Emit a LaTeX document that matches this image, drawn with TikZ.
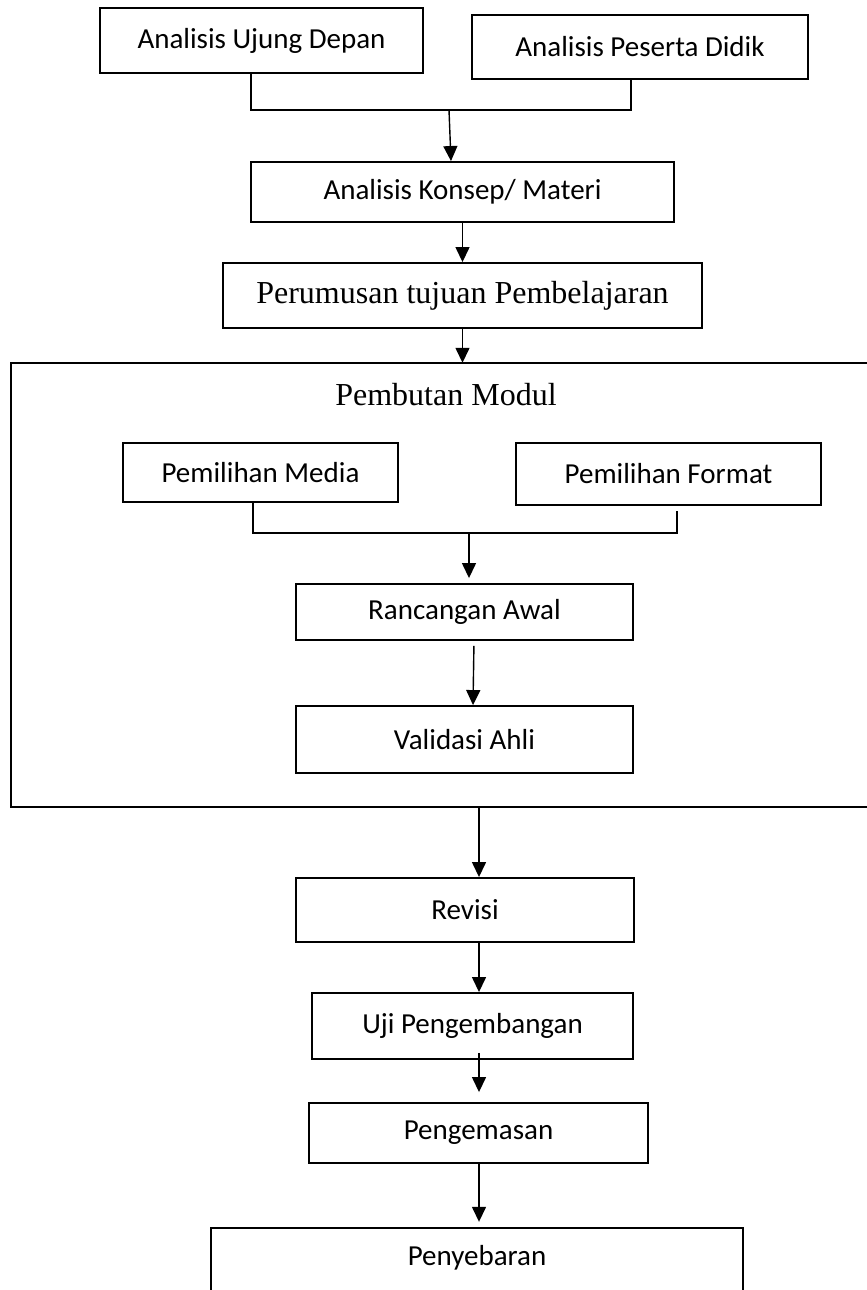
\documentclass[tikz,border=0pt]{standalone}
\usepackage{fontspec}
\setmainfont{Carlito}
\newfontfamily\tnr{Liberation Serif}
\usetikzlibrary{arrows.meta}
\begin{document}
\begin{tikzpicture}[x=1pt,y=-1pt,
  box/.style={draw, line width=1.9pt, inner sep=0pt, font=\fontsize{29}{34}\selectfont},
  serifbox/.style={box, font=\tnr\fontsize{32}{38}\selectfont},
  plain/.style={inner sep=0pt, font=\fontsize{29}{34}\selectfont},
  conn/.style={line width=1.4pt},
  arr/.style={conn, -{Triangle[width=14pt,length=15pt]}}]
\useasboundingbox (0,0) rectangle (867,1290);
\clip (0,0) rectangle (867,1290);
\fill[white] (0,0) rectangle (867,1290);

\node[box, minimum width=323pt, minimum height=65pt] (b1) at (261.5,40.5) {Analisis Ujung Depan};
\node[box, minimum width=336pt, minimum height=64pt] (b2) at (640,47) {Analisis Peserta Didik};
\node[box, minimum width=423pt, minimum height=60pt] (konsep) at (462.5,192) {Analisis Konsep/ Materi};
\node[serifbox, minimum width=479pt, minimum height=65pt] (perumusan) at (462.5,295.5) {Perumusan tujuan Pembelajaran};

\node[inner sep=0pt, minimum width=889pt, minimum height=444pt] (modul) at (455.5,585) {};
\draw[line width=1.9pt] (modul.north east) -- (modul.north west) -- (modul.south west) -- (modul.south east);
\node[inner sep=0pt, font=\tnr\fontsize{32}{38}\selectfont] (title) at (446,395) {Pembutan Modul};

\node[box, minimum width=275pt, minimum height=59pt] (media) at (260.5,472.5) {Pemilihan Media};
\node[box, minimum width=305pt, minimum height=62pt] (format) at (668.5,474) {Pemilihan Format};
\node[box, minimum width=337pt, minimum height=56pt] (rancangan) at (464.5,612) {Rancangan Awal};
\node[box, minimum width=337pt, minimum height=67pt] (validasi) at (464.5,739.5) {Validasi Ahli};

\node[box, minimum width=338pt, minimum height=64pt] (revisi) at (465,910) {Revisi};
\node[box, minimum width=321pt, minimum height=66pt] (uji) at (472.5,1026) {Uji Pengembangan};
\node[box, minimum width=339pt, minimum height=60pt] (pengemasan) at (478.5,1133) {Pengemasan};
\node[plain, minimum width=532pt, minimum height=60pt] (peny) at (477,1258) {Penyebaran};
\draw[line width=1.9pt] ([yshift=-10pt]peny.south west) -- (peny.north west) -- (peny.north east) -- ([yshift=-10pt]peny.south east);

% top bracket
\coordinate (j1l) at (251,110);
\coordinate (j1r) at (631,110);
\coordinate (j1m) at (449,110);
\draw[conn] (b1.south -| j1l) -- (j1l) -- (j1r) -- (b2.south -| j1r);
\draw[arr] (j1m) -- ([xshift=-11.5pt]konsep.north);
\draw[arr] (konsep.south) -- (perumusan.north);
\draw[arr] (perumusan.south) -- (perumusan.south |- modul.north);

% inner bracket
\coordinate (j2l) at (253,533);
\coordinate (j2r) at (677,533);
\coordinate (j2m) at (469,533);
\draw[conn] (media.south -| j2l) -- (j2l) -- (j2r) -- ([yshift=-5pt]format.south -| j2r);
\draw[arr, shorten >=5pt] (j2m) -- ([xshift=4.5pt]rancangan.north);
\draw[arr, shorten <=5pt] ([xshift=9.5pt]rancangan.south) -- ([xshift=8.5pt]validasi.north);

% lower chain
\coordinate (r1) at ([xshift=14pt]revisi.north);
\draw[arr] (r1 |- modul.south) -- (r1);
\draw[arr] ([xshift=14pt]revisi.south) -- ([xshift=6.5pt]uji.north);
\draw[arr, shorten >=10pt] ([xshift=6.5pt,yshift=7pt]uji.south) -- ([xshift=0.5pt]pengemasan.north);
\draw[arr, shorten >=6pt] ([xshift=0.5pt]pengemasan.south) -- ([xshift=2pt]peny.north);
\end{tikzpicture}
\end{document}
